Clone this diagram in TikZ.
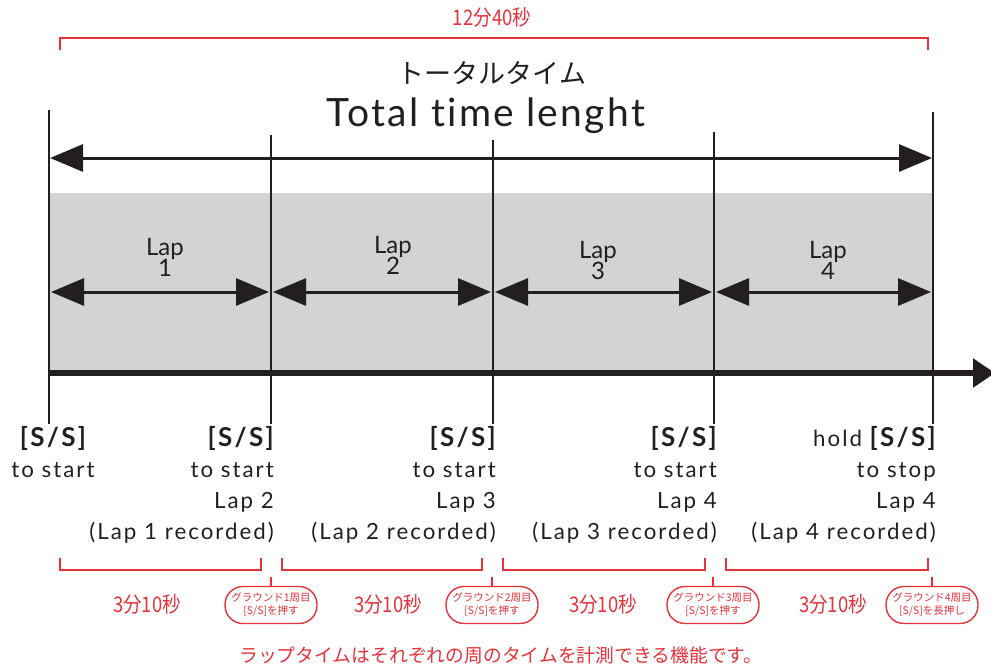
\documentclass[tikz,border=0pt]{standalone}
\usepackage{fontspec}
\setmainfont{Lato}
\newfontfamily\spaced{Lato}[LetterSpace=9, Ligatures=NoCommon]
\newfontfamily\titlefont{Lato}[LetterSpace=6, Ligatures=NoCommon]
\newfontfamily\jp{Noto Sans CJK JP}
\newfontfamily\jpnarrow{Noto Sans CJK JP}[FakeStretch=0.86]
\usetikzlibrary{arrows.meta}
\definecolor{ink}{HTML}{231F20}
\definecolor{lapgray}{HTML}{D1D3D4}
\definecolor{note}{HTML}{E6323B}
\newcommand{\sskey}{{\fontsize{26}{31}\selectfont\bfseries [S/S]}}
\tikzset{
  divider/.style={draw=ink, line width=2.4pt},
  span/.style={draw=ink, line width=3pt,
    {Triangle[length=33pt,width=27pt]}-{Triangle[length=33pt,width=27pt]}},
  axis/.style={draw=ink, line width=5.5pt, -{Triangle[length=22pt,width=28pt]}},
  bracket/.style={draw=note, line width=2.8pt},
  laptxt/.style={text=ink, font=\fontsize{24}{24}\selectfont, inner sep=0pt, anchor=base},
  keytxt/.style={text=ink, font=\spaced\fontsize{22.3}{31}\selectfont, inner sep=0pt, align=right, anchor=north east},
  redtxt/.style={text=note, font=\jpnarrow\fontsize{21.5}{21.5}\selectfont, inner sep=0pt},
  callout/.style={draw=note, line width=1.4pt, rounded corners=18pt, minimum width=92pt,
    minimum height=37pt, inner sep=0pt, align=center, text=note,
    font=\jp\fontsize{10.5}{13}\selectfont},
}
\begin{document}
\begin{tikzpicture}[x=1pt,y=-1pt]
\useasboundingbox (0,0) rectangle (991,665);

% shaded band behind the laps
\fill[lapgray] (49,193) rectangle (933,373);

% split points along the timeline
\coordinate (t0) at (49,110);  \coordinate (b0) at (49,424);
\coordinate (t1) at (271,135); \coordinate (b1) at (271,424);
\coordinate (t2) at (493,140); \coordinate (b2) at (493,424);
\coordinate (t3) at (714,132); \coordinate (b3) at (714,424);
\coordinate (t4) at (933,112); \coordinate (b4) at (933,424);
\foreach \i in {0,...,4} \draw[divider] (t\i) -- (b\i);

% time axis
\coordinate (ax0) at (49,373);
\coordinate (ax1) at (995,373);
\draw[axis] (ax0) -- (ax1);

% total duration
\coordinate (tot0) at (50,158);
\coordinate (tot1) at (932,158);
\draw[span] (tot0) -- (tot1);

% lap spans
\coordinate (l0) at (51,292);
\coordinate (l1) at (269,292);
\coordinate (l2) at (273,292);
\coordinate (l3) at (491,292);
\coordinate (l4) at (495,292);
\coordinate (l5) at (712,292);
\coordinate (l6) at (716,292);
\coordinate (l7) at (931,292);
\draw[span] (l0) -- (l1);
\draw[span] (l2) -- (l3);
\draw[span] (l4) -- (l5);
\draw[span] (l6) -- (l7);

\node[laptxt] (lap1) at (165,255) {Lap};
\node[laptxt] (n1) at (165,276) {1};
\node[laptxt] (lap2) at (393,253) {Lap};
\node[laptxt] (n2) at (393,274) {2};
\node[laptxt] (lap3) at (598,258) {Lap};
\node[laptxt] (n3) at (598,279) {3};
\node[laptxt] (lap4) at (828,258) {Lap};
\node[laptxt] (n4) at (828,279) {4};

% headings
\node[redtxt] (tottime) at (492,17) {12分40秒};
\draw[bracket] (60,50) -- (60,38) -- (928,38) -- (928,50);
\node[text=ink, font=\jp\fontsize{27}{27}\selectfont, inner sep=0pt] (jtitle) at (492,73) {トータルタイム};
\node[text=ink, font=\titlefont\fontsize{39}{39}\selectfont, inner sep=0pt] (title) at (486,116) {Total time lenght};

% button descriptions
\node[keytxt, anchor=north, align=center] (k0) at (53,426) {\sskey\\to start};
\node[keytxt] (k1) at (274,426) {\sskey\\to start\\Lap 2\\(Lap 1 recorded)};
\node[keytxt] (k2) at (496,426) {\sskey\\to start\\Lap 3\\(Lap 2 recorded)};
\node[keytxt] (k3) at (717,426) {\sskey\\to start\\Lap 4\\(Lap 3 recorded)};
\node[keytxt] (k4) at (936,426) {hold \sskey\\to stop\\Lap 4\\(Lap 4 recorded)};

% lap brackets and times
\draw[bracket] (60,558) -- (60,570) -- (261,570) -- (261,558);
\draw[bracket] (282,558) -- (282,570) -- (482,570) -- (482,558);
\draw[bracket] (503,558) -- (503,570) -- (705,570) -- (705,558);
\draw[bracket] (726,558) -- (726,570) -- (928,570) -- (928,558);
\node[redtxt] (lt1) at (147,604) {3分10秒};
\node[redtxt] (lt2) at (388,604) {3分10秒};
\node[redtxt] (lt3) at (603,604) {3分10秒};
\node[redtxt] (lt4) at (833,604) {3分10秒};

% button press notes
\node[callout] (c1) at (271,605) {グラウンド1周目\\{}[S/S]を押す};
\node[callout] (c2) at (492,605) {グラウンド2周目\\{}[S/S]を押す};
\node[callout] (c3) at (713,605) {グラウンド3周目\\{}[S/S]を押す};
\node[callout] (c4) at (932,605) {グラウンド4周目\\{}[S/S]を長押し};
\foreach \i in {1,...,4} \draw[draw=note, line width=1.4pt] (c\i.north) -- ++(0,-9);

\node[text=note, font=\jp\fontsize{18.8}{18.8}\selectfont, inner sep=0pt] (summary) at (501,655) {ラップタイムはそれぞれの周のタイムを計測できる機能です。};
\end{tikzpicture}
\end{document}
